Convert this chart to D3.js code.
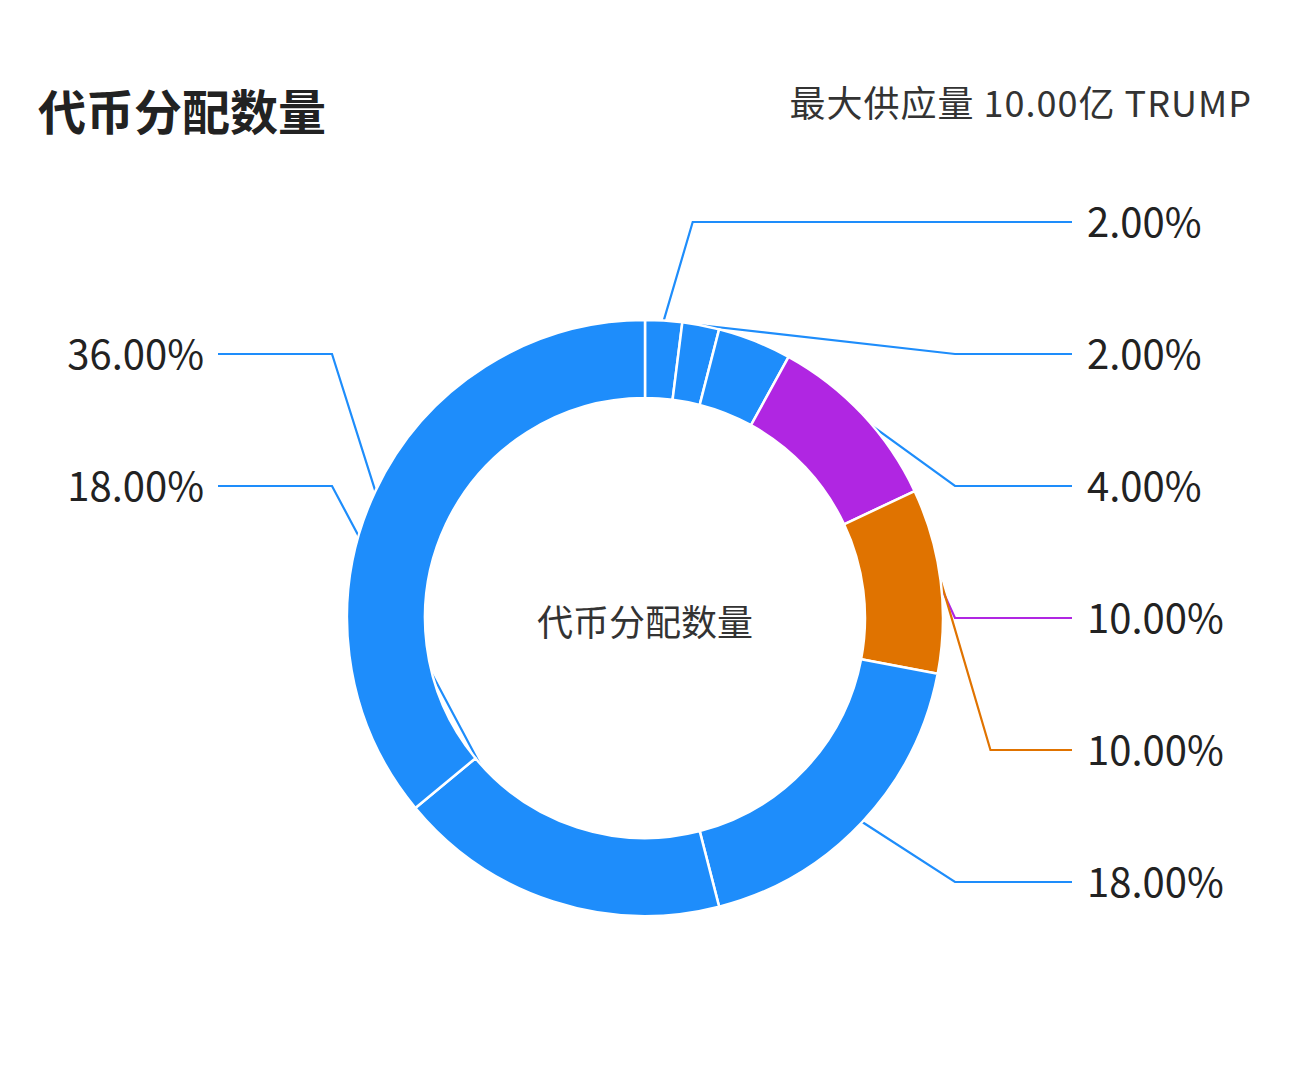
<!DOCTYPE html>
<html>
<head>
<meta charset="utf-8">
<script src="https://cdn.jsdelivr.net/npm/d3@7"></script>
<style>
  html, body { margin: 0; padding: 0; background: #fff; }
  svg { display: block; font-family: "Noto Sans CJK SC", "Noto Sans", sans-serif; }
</style>
</head>
<body>
<div id="chart"></div>
<script>
// token allocation shares, clockwise from 12 o'clock
const shares = [2, 2, 4, 10, 10, 18, 18, 36]
const sliceColors = ['#1e8dfb', '#1e8dfb', '#1e8dfb', '#b026e2', '#e07300', '#1e8dfb', '#1e8dfb', '#1e8dfb']
const titleText = '代币分配数量'
const supplyText = '最大供应量  10.00亿 TRUMP'
const centerText = '代币分配数量'

const w = 1290
const h = 1069
const cx = 645
const cy = 618
const outerR = 298
const innerR = 220
const slotGap = 132

const svg = d3.select('#chart')
  .append('svg')
  .attr('width', w)
  .attr('height', h)

svg.append('rect').attr('width', w).attr('height', h).attr('fill', '#fff')

svg.append('text')
  .attr('x', 38)
  .attr('y', 109)
  .attr('dominant-baseline', 'central')
  .attr('font-size', 48)
  .attr('font-weight', 'bold')
  .attr('fill', '#222')
  .text(titleText)

svg.append('text')
  .attr('x', 1252)
  .attr('y', 101)
  .attr('text-anchor', 'end')
  .attr('dominant-baseline', 'central')
  .attr('font-size', 36)
  .attr('letter-spacing', 1)
  .attr('fill', '#333')
  .text(supplyText)

const pie = d3.pie().sort(null).value(d => d)
const arcs = pie(shares)
const arc = d3.arc().innerRadius(innerR).outerRadius(outerR)

const g = svg.append('g')

// leader lines and labels
const mid = d => (d.startAngle + d.endAngle) / 2
const right = arcs.filter(d => mid(d) < Math.PI)
const left = arcs.filter(d => mid(d) >= Math.PI).sort((a, b) => mid(b) - mid(a))
right.forEach((d, i) => { d.side = 1; d.slot = i - 3 })
left.forEach((d, i) => { d.side = -1; d.slot = i - 2 })

const labels = right.concat(left).map(d => {
  const a = mid(d)
  const ax = cx + outerR * Math.sin(a)
  const ay = cy - outerR * Math.cos(a)
  const ly = cy + d.slot * slotGap
  const dy = Math.abs(ay - ly) / 3.4
  let ex
  if (d.side > 0) {
    ex = ly < cy - outerR ? ax + dy : Math.max(cx + outerR + 12, ax + dy)
  } else {
    ex = Math.min(cx - outerR - 15, ax - dy)
  }
  const lx = d.side > 0 ? 1072 : 218
  return { d, ax, ay, ex, ly, lx }
})

g.selectAll('path.leader')
  .data(labels)
  .enter()
  .append('path')
  .attr('class', 'leader')
  .attr('d', l => d3.line()([[l.ax, l.ay], [l.ex, l.ly], [l.lx, l.ly]]))
  .attr('fill', 'none')
  .attr('stroke', l => sliceColors[l.d.index])
  .attr('stroke-width', 2.2)

g.selectAll('text.pct')
  .data(labels)
  .enter()
  .append('text')
  .attr('class', 'pct')
  .attr('x', l => l.d.side > 0 ? l.lx + 15 : l.lx - 14)
  .attr('y', l => l.ly - 2)
  .attr('text-anchor', l => l.d.side > 0 ? 'start' : 'end')
  .attr('dominant-baseline', 'central')
  .attr('font-size', 40)
  .attr('fill', '#222')
  .text(l => d3.format('.2f')(l.d.value) + '%')

// ring on top of the leader lines
g.append('g')
  .attr('transform', 'translate(' + cx + ',' + cy + ')')
  .selectAll('path')
  .data(arcs)
  .enter()
  .append('path')
  .attr('d', arc)
  .attr('fill', (d, i) => sliceColors[i])
  .attr('stroke', '#fff')
  .attr('stroke-width', 2.5)

svg.append('text')
  .attr('x', cx)
  .attr('y', cy + 2)
  .attr('text-anchor', 'middle')
  .attr('dominant-baseline', 'central')
  .attr('font-size', 36)
  .attr('fill', '#333')
  .text(centerText)
</script>
</body>
</html>
